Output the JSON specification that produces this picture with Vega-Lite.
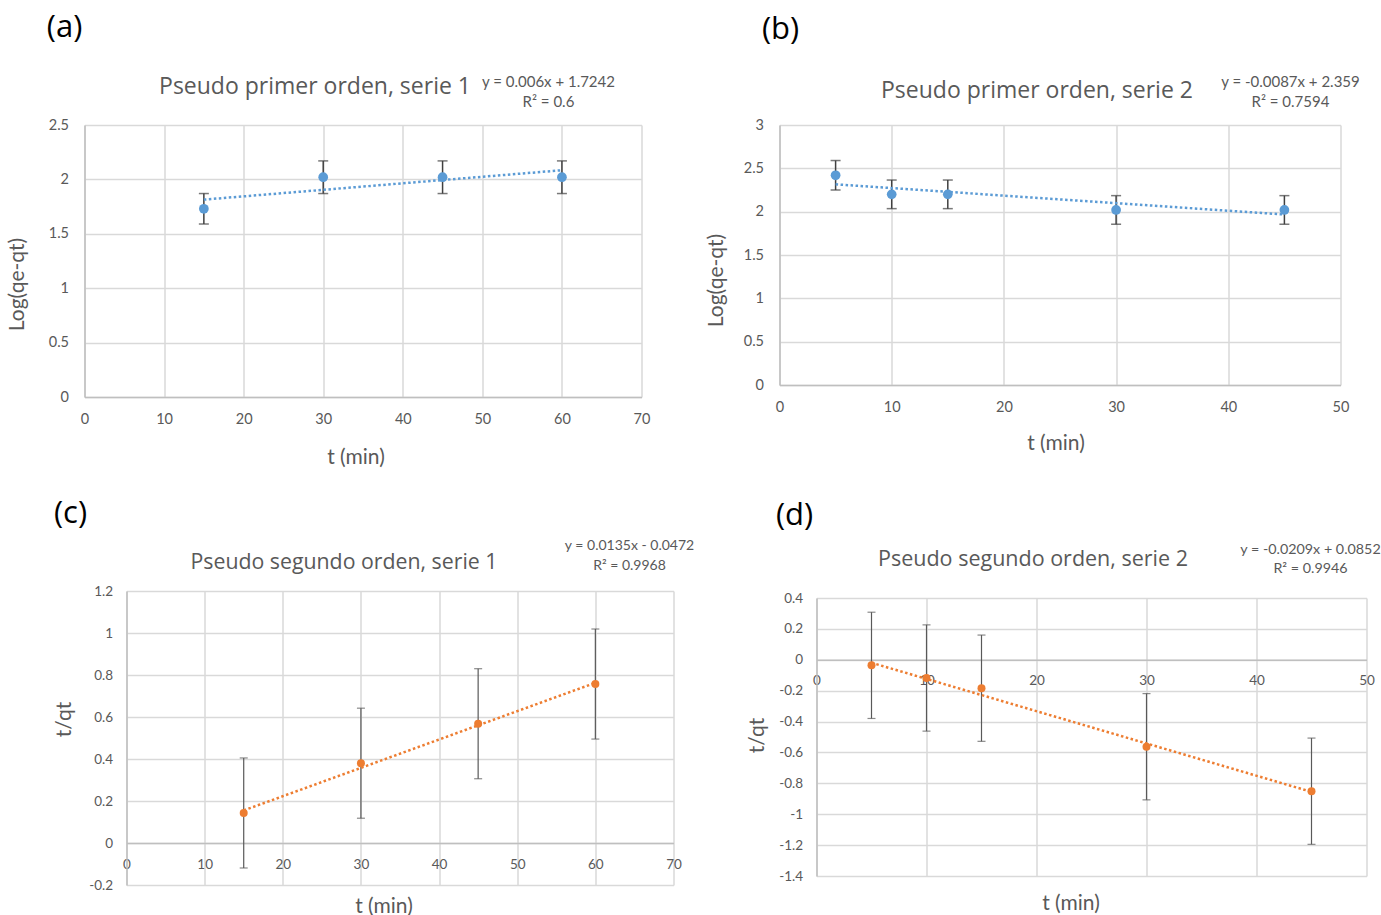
{
  "$schema": "https://vega.github.io/schema/vega-lite/v6.json",
  "background": "white",
  "autosize": {"type": "pad"},
  "padding": {"left": 6.5, "top": 11, "right": 0, "bottom": 5},
  "config": {
    "view": {"stroke": null},
    "font": "Lato",
    "axis": {
      "grid": true,
      "gridColor": "#d9d9d9",
      "gridWidth": 1.5,
      "domainColor": "#bfbfbf",
      "domainWidth": 1.5,
      "ticks": false,
      "tickSize": 0,
      "labelColor": "#595959",
      "labelFont": "Lato",
      "labelFontSize": 14.5,
      "labelFlush": false,
      "labelOverlap": false,
      "labelBound": false,
      "labelExpr": "'' + datum.value",
      "titleColor": "#595959",
      "titleFont": "Lato",
      "titleFontSize": 21,
      "titleFontWeight": "normal",
      "titleAlign": "center",
      "titleBaseline": "middle"
    },
    "text": {"font": "Lato", "color": "#595959"}
  },
  "datasets": {
    "a_pts": [
      {"t": 15, "v": 1.73, "err": 0.14},
      {"t": 30, "v": 2.02, "err": 0.15},
      {"t": 45, "v": 2.02, "err": 0.15},
      {"t": 60, "v": 2.02, "err": 0.15}
    ],
    "a_fit": [{"t": 15, "v": 1.8142}, {"t": 60, "v": 2.0842}],
    "a_txt": [{"label": "(a)", "title": "Pseudo primer orden, serie 1", "eq": "y = 0.006x + 1.7242", "r2": "R² = 0.6"}],
    "b_pts": [
      {"t": 5, "v": 2.42, "err": 0.17},
      {"t": 10, "v": 2.2, "err": 0.165},
      {"t": 15, "v": 2.2, "err": 0.165},
      {"t": 30, "v": 2.02, "err": 0.165},
      {"t": 45, "v": 2.02, "err": 0.165}
    ],
    "b_fit": [{"t": 5, "v": 2.3155}, {"t": 45, "v": 1.9675}],
    "b_txt": [{"label": "(b)", "title": "Pseudo primer orden, serie 2", "eq": "y = -0.0087x + 2.359", "r2": "R² = 0.7594"}],
    "c_pts": [
      {"t": 15, "v": 0.143, "err": 0.262},
      {"t": 30, "v": 0.38, "err": 0.262},
      {"t": 45, "v": 0.568, "err": 0.262},
      {"t": 60, "v": 0.757, "err": 0.262}
    ],
    "c_fit": [{"t": 15, "v": 0.1553}, {"t": 60, "v": 0.7628}],
    "c_txt": [{"label": "(c)", "title": "Pseudo segundo orden, serie 1", "eq": "y = 0.0135x - 0.0472", "r2": "R² = 0.9968"}],
    "d_pts": [
      {"t": 5, "v": -0.036, "err": 0.344},
      {"t": 10, "v": -0.118, "err": 0.344},
      {"t": 15, "v": -0.184, "err": 0.344},
      {"t": 30, "v": -0.563, "err": 0.344},
      {"t": 45, "v": -0.851, "err": 0.344}
    ],
    "d_fit": [{"t": 5, "v": -0.0193}, {"t": 45, "v": -0.8553}],
    "d_txt": [{"label": "(d)", "title": "Pseudo segundo orden, serie 2", "eq": "y = -0.0209x + 0.0852", "r2": "R² = 0.9946"}]
  },
  "bounds": "flush",
  "spacing": 466,
  "vconcat": [
    {
      "bounds": "flush",
      "spacing": 138,
      "hconcat": [
        {
          "width": 557,
          "height": 272,
          "layer": [
            {"data": {"name": "a_pts"},
             "mark": {"type": "errorbar", "ticks": true, "size": 10, "thickness": 1.5, "color": "#404040"},
             "encoding": {
               "x": {"field": "t", "type": "quantitative", "scale": {"domain": [0, 70], "nice": false, "zero": false},
                     "axis": {"values": [0, 10, 20, 30, 40, 50, 60, 70], "labelOverlap": false, "title": "t (min)", "labelPadding": 15.8, "titleX": 271, "titleY": 60}},
               "y": {"field": "v", "type": "quantitative", "scale": {"domain": [0, 2.5], "nice": false, "zero": false},
                     "axis": {"values": [0, 0.5, 1, 1.5, 2, 2.5], "labelOverlap": false, "title": "Log(qe-qt)", "labelPadding": 16, "titleX": -67, "titleY": 159, "titleAngle": 270}},
               "yError": {"field": "err"}
             }},
            {"data": {"name": "a_pts"},
             "mark": {"type": "circle", "size": 95, "color": "#5b9bd5", "opacity": 1},
             "encoding": {"x": {"field": "t", "type": "quantitative"}, "y": {"field": "v", "type": "quantitative"}}},
            {"data": {"name": "a_fit"},
             "mark": {"type": "line", "color": "#5b9bd5", "strokeWidth": 2.5, "strokeDash": [2.5, 2.5]},
             "encoding": {"x": {"field": "t", "type": "quantitative"}, "y": {"field": "v", "type": "quantitative"}}},
            {"data": {"name": "a_txt"},
             "mark": {"type": "text", "font": "Open Sans", "fontSize": 31, "color": "#000000", "baseline": "middle", "align": "center"},
             "encoding": {"x": {"datum": -2.51, "type": "quantitative"}, "y": {"datum": 3.392, "type": "quantitative"}, "text": {"field": "label"}}},
            {"data": {"name": "a_txt"},
             "mark": {"type": "text", "font": "Open Sans", "fontSize": 23, "baseline": "middle", "align": "center"},
             "encoding": {"x": {"datum": 28.97, "type": "quantitative"}, "y": {"datum": 2.849, "type": "quantitative"}, "text": {"field": "title"}}},
            {"data": {"name": "a_txt"},
             "mark": {"type": "text", "fontSize": 15, "baseline": "middle", "align": "center"},
             "encoding": {"x": {"datum": 58.31, "type": "quantitative"}, "y": {"datum": 2.895, "type": "quantitative"}, "text": {"field": "eq"}}},
            {"data": {"name": "a_txt"},
             "mark": {"type": "text", "fontSize": 15, "baseline": "middle", "align": "center"},
             "encoding": {"x": {"datum": 58.31, "type": "quantitative"}, "y": {"datum": 2.711, "type": "quantitative"}, "text": {"field": "r2"}}}
          ]
        },
        {
          "width": 561,
          "height": 260,
          "layer": [
            {"data": {"name": "b_pts"},
             "mark": {"type": "errorbar", "ticks": true, "size": 10, "thickness": 1.5, "color": "#404040"},
             "encoding": {
               "x": {"field": "t", "type": "quantitative", "scale": {"domain": [0, 50], "nice": false, "zero": false},
                     "axis": {"values": [0, 10, 20, 30, 40, 50], "labelOverlap": false, "title": "t (min)", "labelPadding": 15.8, "titleX": 276, "titleY": 58}},
               "y": {"field": "v", "type": "quantitative", "scale": {"domain": [0, 3], "nice": false, "zero": false},
                     "axis": {"values": [0, 0.5, 1, 1.5, 2, 2.5, 3], "labelOverlap": false, "title": "Log(qe-qt)", "labelPadding": 16, "titleX": -63, "titleY": 155, "titleAngle": 270}},
               "yError": {"field": "err"}
             }},
            {"data": {"name": "b_pts"},
             "mark": {"type": "circle", "size": 95, "color": "#5b9bd5", "opacity": 1},
             "encoding": {"x": {"field": "t", "type": "quantitative"}, "y": {"field": "v", "type": "quantitative"}}},
            {"data": {"name": "b_fit"},
             "mark": {"type": "line", "color": "#5b9bd5", "strokeWidth": 2.5, "strokeDash": [2.5, 2.5]},
             "encoding": {"x": {"field": "t", "type": "quantitative"}, "y": {"field": "v", "type": "quantitative"}}},
            {"data": {"name": "b_txt"},
             "mark": {"type": "text", "font": "Open Sans", "fontSize": 31, "color": "#000000", "baseline": "middle", "align": "center"},
             "encoding": {"x": {"datum": 0.09, "type": "quantitative"}, "y": {"datum": 4.096, "type": "quantitative"}, "text": {"field": "label"}}},
            {"data": {"name": "b_txt"},
             "mark": {"type": "text", "font": "Open Sans", "fontSize": 23, "baseline": "middle", "align": "center"},
             "encoding": {"x": {"datum": 22.95, "type": "quantitative"}, "y": {"datum": 3.392, "type": "quantitative"}, "text": {"field": "title"}}},
            {"data": {"name": "b_txt"},
             "mark": {"type": "text", "fontSize": 15, "baseline": "middle", "align": "center"},
             "encoding": {"x": {"datum": 45.54, "type": "quantitative"}, "y": {"datum": 3.496, "type": "quantitative"}, "text": {"field": "eq"}}},
            {"data": {"name": "b_txt"},
             "mark": {"type": "text", "fontSize": 15, "baseline": "middle", "align": "center"},
             "encoding": {"x": {"datum": 45.54, "type": "quantitative"}, "y": {"datum": 3.265, "type": "quantitative"}, "text": {"field": "r2"}}}
          ]
        }
      ]
    },
    {
      "bounds": "flush",
      "spacing": 0,
      "hconcat": [
        {"width": 42, "height": 10, "data": {"values": []}, "mark": {"type": "point"}, "encoding": {}},
        {
          "width": 547,
          "height": 294,
          "layer": [
            {"data": {"name": "c_pts"},
             "mark": {"type": "errorbar", "ticks": true, "size": 8, "thickness": 1.2, "color": "#595959"},
             "encoding": {
               "x": {"field": "t", "type": "quantitative", "scale": {"domain": [0, 70], "nice": false, "zero": false},
                     "axis": {"values": [0, 10, 20, 30, 40, 50, 60, 70], "labelOverlap": false, "title": "t (min)", "offset": -42, "labelFontSize": 13.5, "labelPadding": 14.2, "titleX": 257, "titleY": 63}},
               "y": {"field": "v", "type": "quantitative", "scale": {"domain": [-0.2, 1.2], "nice": false, "zero": false},
                     "axis": {"values": [-0.2, 0, 0.2, 0.4, 0.6, 0.8, 1, 1.2], "labelOverlap": false, "title": "t/qt", "labelFontSize": 13.5, "labelPadding": 14, "titleX": -62, "titleY": 128, "titleAngle": 270}},
               "yError": {"field": "err"}
             }},
            {"data": {"name": "c_pts"},
             "mark": {"type": "circle", "size": 64, "color": "#ed7d31", "opacity": 1},
             "encoding": {"x": {"field": "t", "type": "quantitative"}, "y": {"field": "v", "type": "quantitative"}}},
            {"data": {"name": "c_fit"},
             "mark": {"type": "line", "color": "#ed7d31", "strokeWidth": 2.5, "strokeDash": [2.5, 2.5]},
             "encoding": {"x": {"field": "t", "type": "quantitative"}, "y": {"field": "v", "type": "quantitative"}}},
            {"data": {"name": "c_txt"},
             "mark": {"type": "text", "font": "Open Sans", "fontSize": 31, "color": "#000000", "baseline": "middle", "align": "center"},
             "encoding": {"x": {"datum": -7.17, "type": "quantitative"}, "y": {"datum": 1.567, "type": "quantitative"}, "text": {"field": "label"}}},
            {"data": {"name": "c_txt"},
             "mark": {"type": "text", "font": "Open Sans", "fontSize": 21.3, "baseline": "middle", "align": "center"},
             "encoding": {"x": {"datum": 27.83, "type": "quantitative"}, "y": {"datum": 1.333, "type": "quantitative"}, "text": {"field": "title"}}},
            {"data": {"name": "c_txt"},
             "mark": {"type": "text", "fontSize": 14, "baseline": "middle", "align": "center"},
             "encoding": {"x": {"datum": 64.37, "type": "quantitative"}, "y": {"datum": 1.414, "type": "quantitative"}, "text": {"field": "eq"}}},
            {"data": {"name": "c_txt"},
             "mark": {"type": "text", "fontSize": 14, "baseline": "middle", "align": "center"},
             "encoding": {"x": {"datum": 64.37, "type": "quantitative"}, "y": {"datum": 1.319, "type": "quantitative"}, "text": {"field": "r2"}}}
          ]
        },
        {"width": 143, "height": 10, "data": {"values": []}, "mark": {"type": "point"}, "encoding": {}},
        {
          "bounds": "flush",
          "spacing": 0,
          "vconcat": [
            {"width": 10, "height": 6.5, "data": {"values": []}, "mark": {"type": "point"}, "encoding": {}},
            {
              "width": 550,
              "height": 278,
              "layer": [
                {"data": {"name": "d_pts"},
                 "mark": {"type": "errorbar", "ticks": true, "size": 8, "thickness": 1.2, "color": "#595959"},
                 "encoding": {
                   "x": {"field": "t", "type": "quantitative", "scale": {"domain": [0, 50], "nice": false, "zero": false},
                         "axis": {"values": [0, 10, 20, 30, 40, 50], "labelOverlap": false, "title": "t (min)", "offset": -216.2, "labelFontSize": 13.5, "labelPadding": 13.6, "titleX": 254, "titleY": 243.7}},
                   "y": {"field": "v", "type": "quantitative", "scale": {"domain": [-1.4, 0.4], "nice": false, "zero": false},
                         "axis": {"values": [-1.4, -1.2, -1, -0.8, -0.6, -0.4, -0.2, 0, 0.2, 0.4], "labelOverlap": false, "tickCount": 10, "title": "t/qt", "labelFontSize": 13.5, "labelPadding": 14, "titleX": -59, "titleY": 137, "titleAngle": 270}},
                   "yError": {"field": "err"}
                 }},
                {"data": {"name": "d_pts"},
                 "mark": {"type": "circle", "size": 64, "color": "#ed7d31", "opacity": 1},
                 "encoding": {"x": {"field": "t", "type": "quantitative"}, "y": {"field": "v", "type": "quantitative"}}},
                {"data": {"name": "d_fit"},
                 "mark": {"type": "line", "color": "#ed7d31", "strokeWidth": 2.5, "strokeDash": [2.5, 2.5]},
                 "encoding": {"x": {"field": "t", "type": "quantitative"}, "y": {"field": "v", "type": "quantitative"}}},
                {"data": {"name": "d_txt"},
                 "mark": {"type": "text", "font": "Open Sans", "fontSize": 31, "color": "#000000", "baseline": "middle", "align": "center"},
                 "encoding": {"x": {"datum": -2.0, "type": "quantitative"}, "y": {"datum": 0.934, "type": "quantitative"}, "text": {"field": "label"}}},
                {"data": {"name": "d_txt"},
                 "mark": {"type": "text", "font": "Open Sans", "fontSize": 21.5, "baseline": "middle", "align": "center"},
                 "encoding": {"x": {"datum": 19.68, "type": "quantitative"}, "y": {"datum": 0.643, "type": "quantitative"}, "text": {"field": "title"}}},
                {"data": {"name": "d_txt"},
                 "mark": {"type": "text", "fontSize": 14.3, "baseline": "middle", "align": "center"},
                 "encoding": {"x": {"datum": 44.91, "type": "quantitative"}, "y": {"datum": 0.708, "type": "quantitative"}, "text": {"field": "eq"}}},
                {"data": {"name": "d_txt"},
                 "mark": {"type": "text", "fontSize": 14.3, "baseline": "middle", "align": "center"},
                 "encoding": {"x": {"datum": 44.91, "type": "quantitative"}, "y": {"datum": 0.585, "type": "quantitative"}, "text": {"field": "r2"}}}
              ]
            }
          ]
        }
      ]
    }
  ]
}
